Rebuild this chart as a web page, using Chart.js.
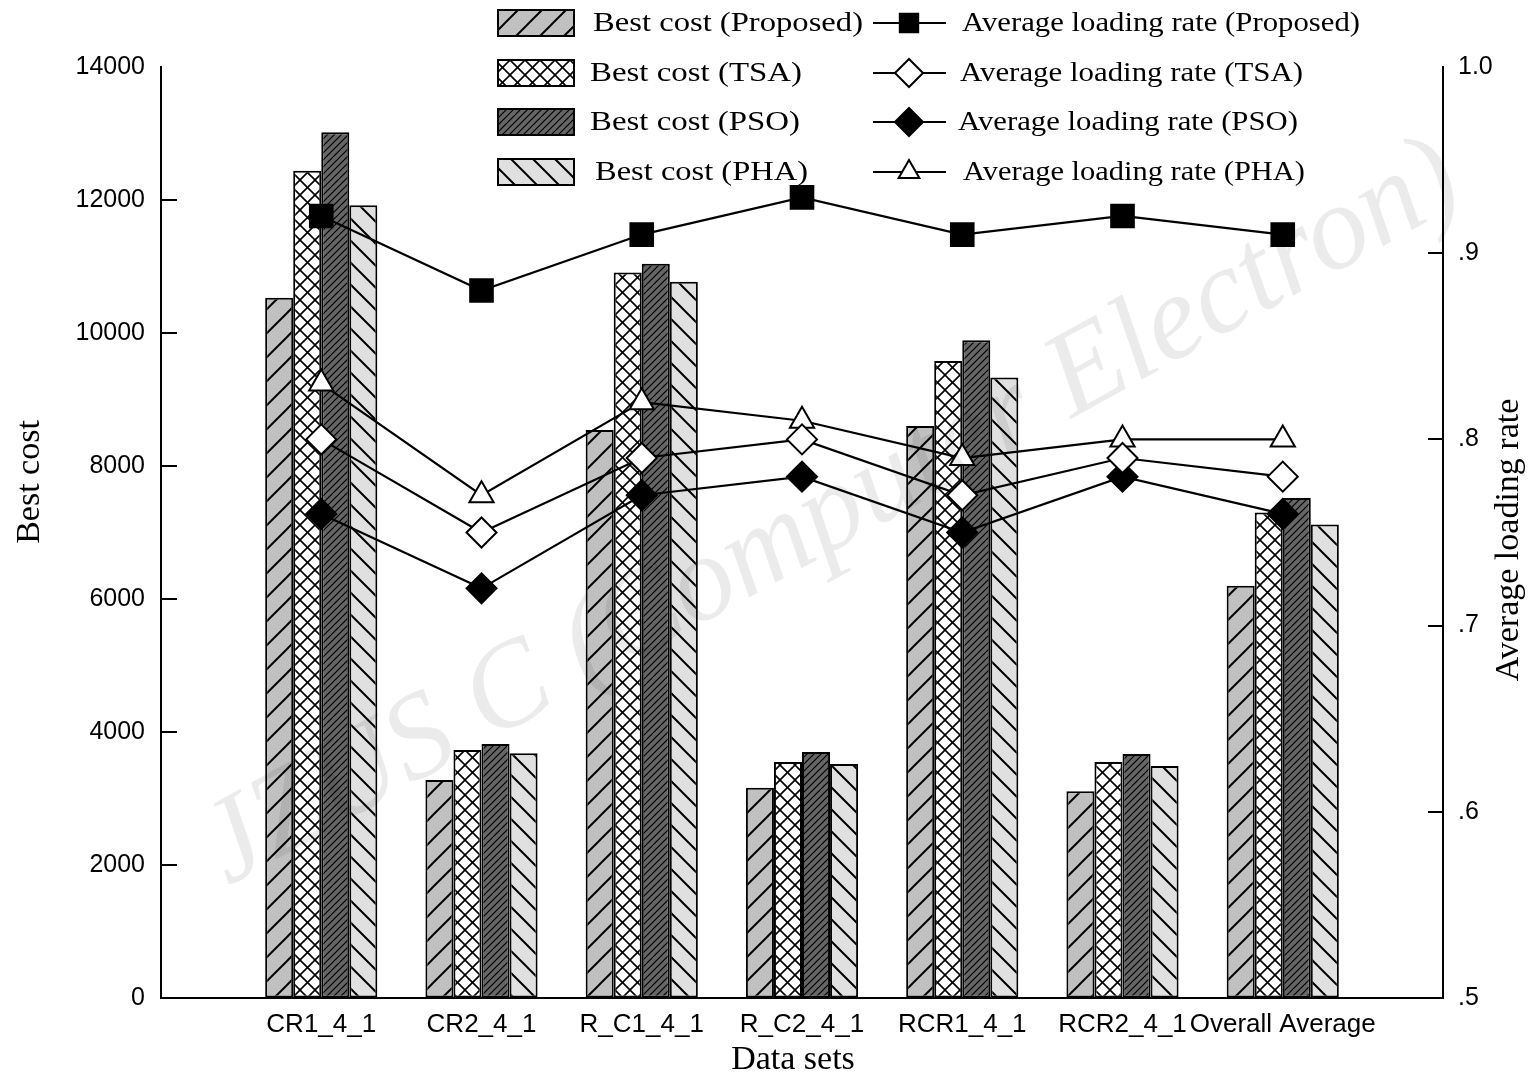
<!DOCTYPE html>
<html>
<head>
<meta charset="utf-8">
<script src="https://cdn.jsdelivr.net/npm/chart.js@4/dist/chart.umd.min.js"></script>
<style>
  html, body { margin: 0; padding: 0; background: #fff; }
  #wrap { width: 1535px; height: 1079px; position: relative; }
</style>
</head>
<body>
<div id="wrap"><canvas id="mainChart"></canvas></div>
<script>
const dataSets = ['CR1_4_1', 'CR2_4_1', 'R_C1_4_1', 'R_C2_4_1', 'RCR1_4_1', 'RCR2_4_1', 'Overall Average'];

// best cost (left axis)
const costProposed = [10530, 3280, 8540, 3160, 8600, 3110, 6200];
const costTSA      = [12440, 3730, 10910, 3550, 9580, 3550, 7300];
const costPSO      = [13020, 3820, 11040, 3700, 9890, 3670, 7520];
const costPHA      = [11920, 3680, 10770, 3520, 9330, 3490, 7120];

// average loading rate (right axis)
const rateProposed = [0.92, 0.88, 0.91, 0.93, 0.91, 0.92, 0.91];
const rateTSA      = [0.80, 0.75, 0.79, 0.80, 0.77, 0.79, 0.78];
const ratePSO      = [0.76, 0.72, 0.77, 0.78, 0.75, 0.78, 0.76];
const ratePHA      = [0.83, 0.77, 0.82, 0.81, 0.79, 0.80, 0.80];

const costTicks = [0, 2000, 4000, 6000, 8000, 10000, 12000, 14000];
const rateTicks = ['.5', '.6', '.7', '.8', '.9', '1.0'];

const SERIF = "'Liberation Serif', 'Times New Roman', serif";
const SANS = "'Liberation Sans', Arial, sans-serif";

// empty slot at each end so the groups sit like the original
const pad = a => [null, ...a, null];

const canvas = document.getElementById('mainChart');
const ctx = canvas.getContext('2d');

// hatch fills
function hatch(bg, size, lw, dirs) {
  const c = document.createElement('canvas');
  c.width = c.height = size;
  const g = c.getContext('2d');
  g.fillStyle = bg;
  g.fillRect(0, 0, size, size);
  g.strokeStyle = '#000';
  g.lineWidth = lw;
  dirs.forEach(d => {
    g.beginPath();
    if (d === '/') {
      g.moveTo(-2, size + 2); g.lineTo(size + 2, -2);
      g.moveTo(-2, 2); g.lineTo(2, -2);
      g.moveTo(size - 2, size + 2); g.lineTo(size + 2, size - 2);
    } else {
      g.moveTo(-2, -2); g.lineTo(size + 2, size + 2);
      g.moveTo(size - 2, -2); g.lineTo(size + 2, 2);
      g.moveTo(-2, size - 2); g.lineTo(2, size + 2);
    }
    g.stroke();
  });
  return ctx.createPattern(c, 'repeat');
}

const fillProposed = hatch('#c0c0c0', 24, 2, ['/']);
const fillTSA = hatch('#ffffff', 15, 1.6, ['/', '\\']);
const fillPSO = hatch('#666666', 7, 1.2, ['/']);
const fillPHA = hatch('#e0e0e0', 22, 2, ['\\']);

const barSeries = [
  { label: 'Best cost (Proposed)', data: costProposed, fill: fillProposed },
  { label: 'Best cost (TSA)', data: costTSA, fill: fillTSA },
  { label: 'Best cost (PSO)', data: costPSO, fill: fillPSO },
  { label: 'Best cost (PHA)', data: costPHA, fill: fillPHA }
];
const lineSeries = [
  { label: 'Average loading rate (Proposed)', data: rateProposed, style: 'rect', bg: '#000', r: 16, lr: 13 },
  { label: 'Average loading rate (TSA)', data: rateTSA, style: 'rectRot', bg: '#fff', r: 15, lr: 14 },
  { label: 'Average loading rate (PSO)', data: ratePSO, style: 'rectRot', bg: '#000', r: 15, lr: 14 },
  { label: 'Average loading rate (PHA)', data: ratePHA, style: 'triangle', bg: '#fff', r: 14, lr: 12 }
];

const datasets = [];
lineSeries.forEach(s => datasets.push({
  type: 'line',
  label: s.label,
  data: pad(s.data),
  yAxisID: 'y1',
  order: 1,
  borderColor: '#000',
  borderWidth: 2.2,
  tension: 0,
  pointStyle: s.style,
  pointRadius: s.r,
  pointBackgroundColor: s.bg,
  pointBorderColor: '#000',
  pointBorderWidth: 2
}));
barSeries.forEach(s => datasets.push({
  type: 'bar',
  label: s.label,
  data: pad(s.data),
  yAxisID: 'y',
  order: 2,
  backgroundColor: s.fill,
  borderColor: '#000',
  borderWidth: 2,
  borderSkipped: false,
  categoryPercentage: 0.7,
  barPercentage: 1
}));

// text squeezed/stretched to the width it has in the original
function fitText(c, text, x, y, width) {
  const w = c.measureText(text).width;
  c.save();
  c.translate(x, y);
  c.scale(width / w, 1);
  c.fillText(text, 0, 0);
  c.restore();
}

// legend, titles, inward ticks, watermark
const extras = {
  id: 'extras',
  afterDraw(chart) {
    const c = chart.ctx;
    const area = chart.chartArea;
    c.save();

    // inward tick marks
    c.strokeStyle = '#000';
    c.lineWidth = 2;
    const yl = chart.scales.y, yr = chart.scales.y1;
    costTicks.slice(1, -1).forEach(v => {
      const py = Math.round(yl.getPixelForValue(v));
      c.beginPath(); c.moveTo(area.left, py); c.lineTo(area.left + 16, py); c.stroke();
    });
    rateTicks.slice(1, -1).forEach(t => {
      const py = Math.round(yr.getPixelForValue(parseFloat(t)));
      c.beginPath(); c.moveTo(area.right, py); c.lineTo(area.right - 15, py); c.stroke();
    });

    // axis titles
    c.fillStyle = '#000';
    c.font = '34px ' + SERIF;
    c.textAlign = 'center';
    c.textBaseline = 'middle';
    c.fillText('Data sets', 793, 1060);
    c.save(); c.translate(30, 482); c.rotate(-Math.PI / 2); c.fillText('Best cost', 0, 0); c.restore();
    c.save(); c.translate(1509, 540); c.rotate(-Math.PI / 2); c.fillText('Average loading rate', 0, 0); c.restore();

    // legend
    const rows = [23, 73, 122, 172];
    const leftX = [593, 590, 590, 595], leftW = [270, 212, 210, 213];
    const rightX = [962, 960, 958, 963], rightW = [398, 343, 340, 342];
    c.font = '28px ' + SERIF;
    c.textAlign = 'left';
    barSeries.forEach((s, i) => {
      const y = rows[i];
      c.fillStyle = s.fill;
      c.fillRect(498, y - 13, 76, 26);
      c.strokeStyle = '#000'; c.lineWidth = 2;
      c.strokeRect(498, y - 13, 76, 26);
      c.fillStyle = '#000';
      fitText(c, s.label, leftX[i], y + 1, leftW[i]);
    });
    lineSeries.forEach((s, i) => {
      const y = rows[i];
      c.strokeStyle = '#000'; c.lineWidth = 2.2;
      c.beginPath(); c.moveTo(873, y); c.lineTo(946, y); c.stroke();
      c.fillStyle = s.bg; c.lineWidth = 2;
      Chart.helpers.drawPoint(c, { pointStyle: s.style, radius: s.lr, borderWidth: 2, rotation: 0 }, 909, y);
      c.fillStyle = '#000';
      fitText(c, s.label, rightX[i], y + 1, rightW[i]);
    });

    // journal watermark
    c.save();
    c.translate(832, 515);
    c.rotate(-29 * Math.PI / 180);
    c.font = 'italic 120px ' + SERIF;
    const w = c.measureText('JZUS C (Computer Electron)').width;
    c.font = 'italic ' + Math.round(120 * 1420 / w) + 'px ' + SERIF;
    c.fillStyle = 'rgba(0,0,0,0.08)';
    c.textAlign = 'center';
    c.fillText('JZUS C (Computer Electron)', 0, 0);
    c.restore();

    c.restore();
  }
};

new Chart(ctx, {
  data: { labels: ['', ...dataSets, ''], datasets },
  options: {
    responsive: true,
    maintainAspectRatio: false,
    animation: false,
    layout: { padding: { top: 67, left: 0, right: 0, bottom: 0 } },
    plugins: { legend: { display: false }, tooltip: { enabled: false } },
    scales: {
      x: {
        type: 'category',
        offset: false,
        grid: { drawOnChartArea: false, drawTicks: false },
        border: { display: true, color: '#000', width: 2 },
        ticks: { color: '#000', font: { family: SANS, size: 26 }, padding: 11, maxRotation: 0, autoSkip: false },
        afterFit: s => { s.height = 81; }
      },
      y: {
        position: 'left',
        min: 0, max: 14000,
        grid: { drawOnChartArea: false, drawTicks: false },
        border: { display: true, color: '#000', width: 2 },
        ticks: { stepSize: 2000, color: '#000', font: { family: SANS, size: 25 }, padding: 16, callback: v => String(v) },
        afterFit: s => { s.width = 161; }
      },
      y1: {
        position: 'right',
        min: 0.5, max: 1.0,
        grid: { drawOnChartArea: false, drawTicks: false },
        border: { display: true, color: '#000', width: 2 },
        ticks: {
          stepSize: 0.1, color: '#000', font: { family: SANS, size: 25 }, padding: 15,
          callback: v => rateTicks[Math.round((v - 0.5) * 10)]
        },
        afterFit: s => { s.width = 92; }
      }
    }
  },
  plugins: [extras]
});
</script>
</body>
</html>
